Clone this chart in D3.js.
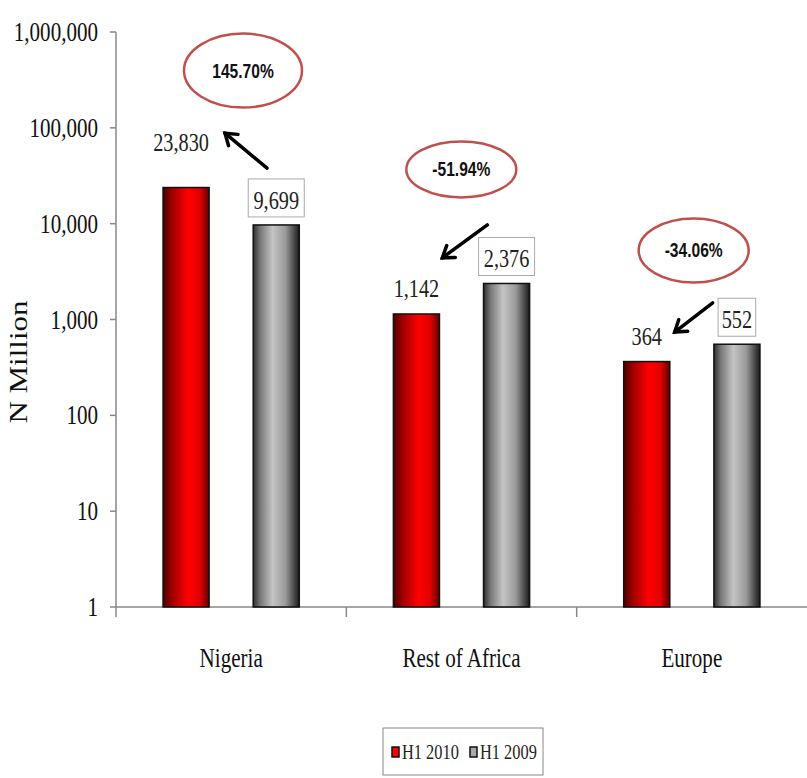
<!DOCTYPE html>
<html><head><meta charset="utf-8">
<script src="https://cdn.jsdelivr.net/npm/d3@7"></script>
<style>body{margin:0;background:#fff}svg{display:block}</style>
</head><body>
<script>
const categories = ["Nigeria", "Rest of Africa", "Europe"];
const series = ["H1 2010", "H1 2009"];
const h1_2010 = [23830, 1142, 364];
const h1_2009 = [9699, 2376, 552];
const labels2010 = ["23,830", "1,142", "364"];
const labels2009 = ["9,699", "2,376", "552"];
const changes = ["145.70%", "-51.94%", "-34.06%"];
const yTicks = [1, 10, 100, 1000, 10000, 100000, 1000000];

const W = 807, H = 778, SX = 0.78;
const svg = d3.select("body").append("svg").attr("width", W).attr("height", H);
const defs = svg.append("defs");
const gR = defs.append("linearGradient").attr("id", "gr");
[[0,"#4a0000"],[0.2,"#a00000"],[0.55,"#ff0000"],[0.8,"#e00000"],[1,"#600000"]].forEach(s=>gR.append("stop").attr("offset",s[0]).attr("stop-color",s[1]));
const gG = defs.append("linearGradient").attr("id", "gg");
[[0,"#2e2e2e"],[0.15,"#777"],[0.42,"#c4c4c4"],[0.7,"#9a9a9a"],[1,"#1a1a1a"]].forEach(s=>gG.append("stop").attr("offset",s[0]).attr("stop-color",s[1]));
const fills = ["url(#gr)", "url(#gg)"];

const y = d3.scaleLog().domain([1, 1e6]).range([607, 32]);
const x0 = d3.scaleBand().domain(categories).range([116, 807]);
const x1 = d3.scaleBand().domain(series).range([0, x0.bandwidth()]).paddingInner(0.489).paddingOuter(0.522);

const serif = "'Liberation Serif','Times New Roman',serif";
function sText(g, px, py, txt, size, anchor, opts={}) {
  return g.append("text").attr("transform", `translate(${px},${py}) scale(${SX},1)`)
    .attr("text-anchor", anchor).attr("font-family", opts.family || serif)
    .attr("font-size", size).attr("font-weight", opts.weight || "normal")
    .attr("fill", opts.fill || "#111").text(txt);
}

// y axis
const ax = svg.append("g");
ax.append("line").attr("x1",116).attr("x2",116).attr("y1",y(1e6)).attr("y2",y(1)).attr("stroke","#888").attr("stroke-width",1.5);
yTicks.forEach(t=>{
  ax.append("line").attr("x1",110).attr("x2",116).attr("y1",y(t)).attr("y2",y(t)).attr("stroke","#888").attr("stroke-width",1.5);
  sText(ax, 98, y(t)+9, d3.format(",")(t), 27, "end");
});
// x axis
ax.append("line").attr("x1",116).attr("x2",807).attr("y1",y(1)).attr("y2",y(1)).attr("stroke","#888").attr("stroke-width",1.5);
categories.forEach((c,i)=>{
  const xb = x0(c);
  ax.append("line").attr("x1",xb).attr("x2",xb).attr("y1",y(1)).attr("y2",y(1)+10).attr("stroke","#888").attr("stroke-width",1.5);
  sText(ax, xb + x0.bandwidth()/2, 667, c, 27, "middle");
});

// y title
svg.append("text").attr("transform", `translate(27,362) scale(${SX},1) rotate(-90)`)
  .attr("text-anchor","middle").attr("font-family",serif).attr("font-size",31).attr("fill","#111").text("N Million");

// bars
const data = [h1_2010, h1_2009];
const bars = svg.append("g");
series.forEach((s,si)=>{
  categories.forEach((c,ci)=>{
    const v = data[si][ci];
    bars.append("rect").attr("x", x0(c)+x1(s)).attr("y", y(v))
      .attr("width", x1.bandwidth()).attr("height", y(1)-y(v))
      .attr("fill", fills[si]).attr("stroke","#111").attr("stroke-width",1.5);
  });
});

// value labels
const lab = svg.append("g");
const redNudge = [-20, 0, 0];
categories.forEach((c,ci)=>{
  const cx = x0(c)+x1(series[0])+x1.bandwidth()/2;
  sText(lab, cx - (ci===0?5:0), y(h1_2010[ci]) - 17 + redNudge[ci], labels2010[ci], 26, "middle", {fill:"#222"});
  const gx = x0(c)+x1(series[1])+x1.bandwidth()/2;
  const by = y(h1_2009[ci]) - 16;
  const tw = labels2009[ci].length * 9.2 + 10;
  lab.append("rect").attr("x", gx - tw/2).attr("y", by - 30).attr("width", tw).attr("height", 38)
    .attr("fill","#fff").attr("stroke","#aaa").attr("stroke-width",1);
  sText(lab, gx, by, labels2009[ci], 26, "middle", {fill:"#222"});
});

// change annotations (positions: [px offset from band start, value on y scale])
const ellipseAt = [[127, 396000], [115, 36800], [117, 5250]];
const arrowFrom = [[151, 38000], [141, 9700], [136, 1490]];
const arrowTo = [[109, 88000], [96, 4400], [98, 740]];
const ann = svg.append("g");
categories.forEach((c,ci)=>{
  const ex = x0(c)+ellipseAt[ci][0], ey = y(ellipseAt[ci][1]);
  ann.append("ellipse").attr("cx", ex).attr("cy", ey).attr("rx", ci===0?59:55).attr("ry", ci===0?37:(ci===1?28:32))
    .attr("fill","none").attr("stroke","#c0504d").attr("stroke-width",2.5);
  sText(ann, ex, ey+7, changes[ci], 20, "middle", {family:"'Liberation Sans Narrow','Liberation Sans',Arial,sans-serif", weight:"bold", fill:"#111"});
  const ax1 = x0(c)+arrowFrom[ci][0], ay1 = y(arrowFrom[ci][1]);
  const ax2 = x0(c)+arrowTo[ci][0], ay2 = y(arrowTo[ci][1]);
  const ang = Math.atan2(ay2-ay1, ax2-ax1), L = 13, sp = 0.6;
  ann.append("line").attr("x1",ax1).attr("y1",ay1).attr("x2",ax2).attr("y2",ay2).attr("stroke","#000").attr("stroke-width",3.5).attr("stroke-linecap","round");
  ann.append("path").attr("d", `M${ax2-L*Math.cos(ang-sp)},${ay2-L*Math.sin(ang-sp)} L${ax2},${ay2} L${ax2-L*Math.cos(ang+sp)},${ay2-L*Math.sin(ang+sp)}`)
    .attr("fill","none").attr("stroke","#000").attr("stroke-width",3.5).attr("stroke-linecap","round").attr("stroke-linejoin","miter");
});

// legend
const lg = svg.append("g");
lg.append("rect").attr("x",383).attr("y",728).attr("width",160).attr("height",47).attr("fill","#fff").attr("stroke","#888").attr("stroke-width",1);
let lx = 392;
series.forEach((s,si)=>{
  lg.append("rect").attr("x",lx).attr("y",747).attr("width",7).attr("height",10).attr("fill",si===0?"#ff0000":"#aaa").attr("stroke","#111").attr("stroke-width",1.5);
  sText(lg, lx+10, 759, s, 21, "start", {fill:"#222"});
  lx += 78;
});
</script>
</body></html>
